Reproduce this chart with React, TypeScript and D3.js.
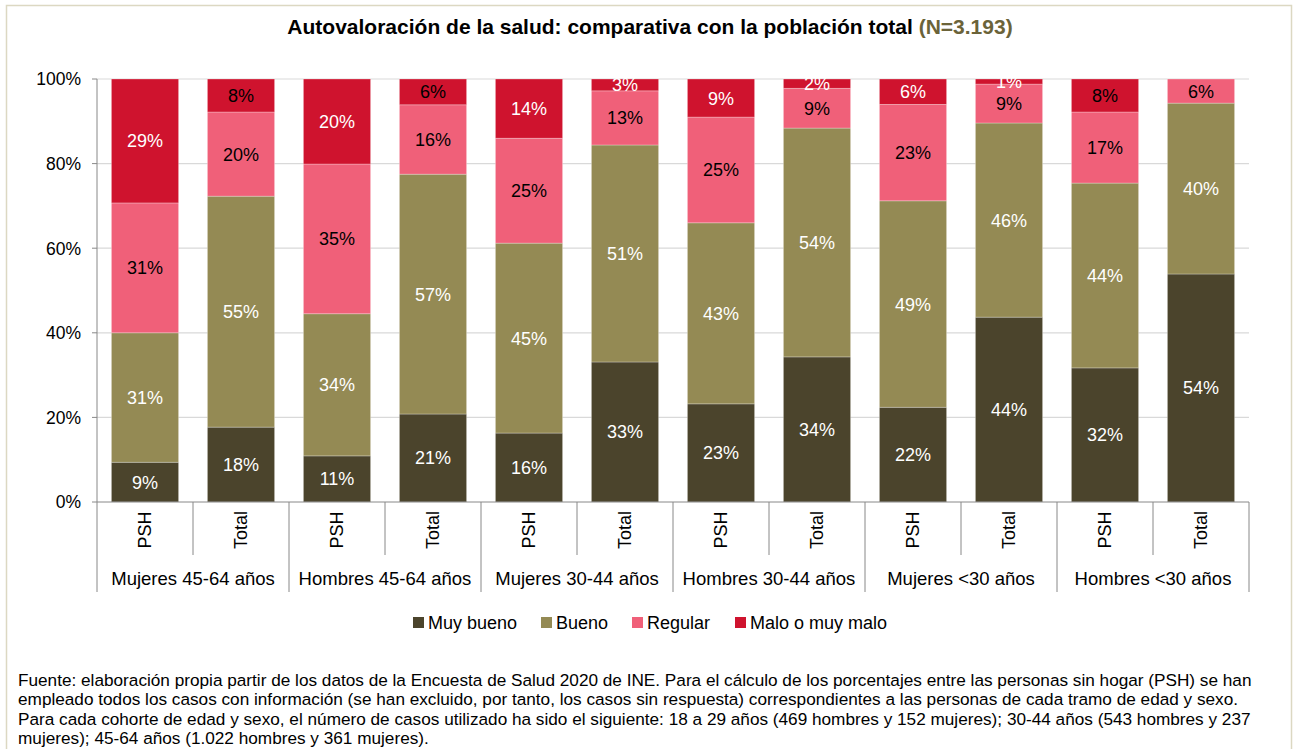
import React, { useEffect, useRef } from 'react';
import * as d3 from 'd3';

// Categories: age/sex groups and the two populations compared in each
const groups = [
  'Mujeres 45-64 años',
  'Hombres 45-64 años',
  'Mujeres 30-44 años',
  'Hombres 30-44 años',
  'Mujeres <30 años',
  'Hombres <30 años',
];
const populations = ['PSH', 'Total'];

const seriesNames = ['Muy bueno', 'Bueno', 'Regular', 'Malo o muy malo'];

// Values in %, one entry per bar (group x population)
const muyBueno = [9.4, 17.7, 10.9, 20.8, 16.3, 33.1, 23.2, 34.3, 22.4, 43.7, 31.7, 53.9];
const bueno = [30.6, 54.6, 33.6, 56.7, 44.9, 51.3, 42.8, 54.1, 48.8, 45.9, 43.7, 40.4];
const regular = [30.7, 19.9, 35.4, 16.4, 24.8, 12.8, 25.0, 9.4, 22.8, 9.2, 16.8, 5.7];
const malo = [29.3, 7.8, 20.1, 6.1, 14.0, 2.8, 9.0, 2.2, 6.0, 1.2, 7.8, 0];

const yTicks = [0, 20, 40, 60, 80, 100];

const footnote = [
  'Fuente: elaboración propia partir de los datos de la Encuesta de Salud 2020 de INE. Para el cálculo de los porcentajes entre las personas sin hogar (PSH) se han',
  'empleado todos los casos con información (se han excluido, por tanto, los casos sin respuesta) correspondientes a las personas de cada tramo de edad y sexo.',
  'Para cada cohorte de edad y sexo, el número de casos utilizado ha sido el siguiente: 18 a 29 años (469 hombres y 152 mujeres); 30-44 años (543 hombres y 237',
  'mujeres); 45-64 años (1.022 hombres y 361 mujeres).',
];

const colors = ['#4b442c', '#948a54', '#f06079', '#cf132e'];
const labelColors = ['#ffffff', '#ffffff', '#000000', '#ffffff'];
const FONT = '"Liberation Sans", Arial, sans-serif';

const App = () => {
  const svgRef = useRef(null);

  useEffect(() => {
    const W = 1295;
    const H = 749;
    const svg = d3.select(svgRef.current);
    svg.selectAll('*').remove();

    // outer frame
    svg
      .append('rect')
      .attr('x', 6.5)
      .attr('y', 5.5)
      .attr('width', 1285)
      .attr('height', 780)
      .attr('fill', '#fff')
      .attr('stroke', '#dcd8c2')
      .attr('stroke-width', 1.5);

    // title
    const title = svg
      .append('text')
      .attr('x', 650)
      .attr('y', 34)
      .attr('text-anchor', 'middle')
      .style('font-family', FONT)
      .style('font-size', '21px')
      .style('font-weight', 'bold')
      .attr('fill', '#000');
    title.append('tspan').text('Autovaloración de la salud: comparativa con la población total ');
    title.append('tspan').attr('fill', '#6b6339').text('(N=3.193)');

    // build rows
    const rows = [];
    groups.forEach((g, gi) => {
      populations.forEach((p, pi) => {
        const i = gi * populations.length + pi;
        rows.push({
          key: `${gi}-${p}`,
          group: g,
          pop: p,
          values: [muyBueno[i], bueno[i], regular[i], malo[i]],
        });
      });
    });

    const left = 97;
    const right = 1249;
    const top = 79;
    const bottom = 502;

    const x = d3
      .scaleBand()
      .domain(rows.map((d) => d.key))
      .range([left, right])
      .paddingInner(0.3)
      .paddingOuter(0.15);

    const xGroup = d3.scaleBand().domain(groups).range([left, right]);

    const y = d3.scaleLinear().domain([0, 100]).range([bottom, top]);

    // gridlines
    svg
      .append('g')
      .selectAll('line')
      .data(yTicks.filter((t) => t > 0))
      .enter()
      .append('line')
      .attr('x1', left)
      .attr('x2', right)
      .attr('y1', (d) => y(d))
      .attr('y2', (d) => y(d))
      .attr('stroke', '#d9d9d9')
      .attr('stroke-width', 1.2);

    // stacks
    const stacked = rows.map((r) => {
      let acc = 0;
      return r.values.map((v, si) => {
        const seg = { key: r.key, si, y0: acc, y1: acc + v, v };
        acc += v;
        return seg;
      });
    });

    const bars = svg.append('g');
    stacked.forEach((segs) => {
      segs.forEach((s) => {
        if (s.v <= 0) return;
        bars
          .append('rect')
          .attr('x', x(s.key))
          .attr('width', x.bandwidth())
          .attr('y', y(s.y1))
          .attr('height', y(s.y0) - y(s.y1))
          .attr('fill', colors[s.si])
          .attr('stroke', 'rgba(255,255,255,0.35)')
          .attr('stroke-width', 0.8);
      });
    });

    // data labels
    const darkMalo = ['0-Total', '1-Total', '5-PSH'];
    stacked.forEach((segs) => {
      segs.forEach((s) => {
        if (s.v <= 0) return;
        let fill = labelColors[s.si];
        if (s.si === 3 && darkMalo.includes(s.key)) fill = '#000';
        bars
          .append('text')
          .attr('x', x(s.key) + x.bandwidth() / 2)
          .attr('y', (y(s.y0) + y(s.y1)) / 2)
          .attr('dy', '0.36em')
          .attr('text-anchor', 'middle')
          .style('font-family', FONT)
          .style('font-size', '18px')
          .attr('fill', fill)
          .text(`${Math.round(s.v)}%`);
      });
    });

    // y axis
    const axisColor = '#888';
    svg
      .append('line')
      .attr('x1', left)
      .attr('x2', left)
      .attr('y1', top)
      .attr('y2', bottom)
      .attr('stroke', axisColor);
    const yt = svg.append('g');
    yTicks.forEach((t) => {
      yt.append('line')
        .attr('x1', left - 5)
        .attr('x2', left)
        .attr('y1', y(t))
        .attr('y2', y(t))
        .attr('stroke', axisColor);
      yt.append('text')
        .attr('x', left - 16)
        .attr('y', y(t))
        .attr('dy', '0.36em')
        .attr('text-anchor', 'end')
        .style('font-family', FONT)
        .style('font-size', '17.5px')
        .attr('fill', '#000')
        .text(`${t}%`);
    });

    // x axis
    svg
      .append('line')
      .attr('x1', left)
      .attr('x2', right)
      .attr('y1', bottom)
      .attr('y2', bottom)
      .attr('stroke', axisColor);

    const xa = svg.append('g');
    // dividers between populations inside a group
    groups.forEach((g) => {
      const mid = xGroup(g) + xGroup.bandwidth() / 2;
      xa.append('line')
        .attr('x1', mid)
        .attr('x2', mid)
        .attr('y1', bottom)
        .attr('y2', 555)
        .attr('stroke', axisColor);
    });
    // group dividers
    [...groups.map((g) => xGroup(g)), right].forEach((gx) => {
      xa.append('line')
        .attr('x1', gx)
        .attr('x2', gx)
        .attr('y1', bottom)
        .attr('y2', 592)
        .attr('stroke', axisColor);
    });

    // rotated population labels
    rows.forEach((r) => {
      const cx = x(r.key) + x.bandwidth() / 2;
      xa.append('text')
        .attr('transform', `translate(${cx},530) rotate(-90)`)
        .attr('text-anchor', 'middle')
        .attr('dy', '0.36em')
        .style('font-family', FONT)
        .style('font-size', '18px')
        .attr('fill', '#000')
        .text(r.pop);
    });

    // group labels
    groups.forEach((g) => {
      xa.append('text')
        .attr('x', xGroup(g) + xGroup.bandwidth() / 2)
        .attr('y', 578)
        .attr('dy', '0.36em')
        .attr('text-anchor', 'middle')
        .style('font-family', FONT)
        .style('font-size', '18.5px')
        .attr('fill', '#000')
        .text(g);
    });

    // legend
    const legendX = [413, 541, 632, 735];
    const lg = svg.append('g');
    seriesNames.forEach((n, i) => {
      lg.append('rect')
        .attr('x', legendX[i])
        .attr('y', 617)
        .attr('width', 11)
        .attr('height', 11)
        .attr('fill', colors[i]);
      lg.append('text')
        .attr('x', legendX[i] + 15)
        .attr('y', 623)
        .attr('dy', '0.36em')
        .style('font-family', FONT)
        .style('font-size', '18px')
        .attr('fill', '#000')
        .text(n);
    });

    // footnote
    const fn = svg.append('g');
    footnote.forEach((line, i) => {
      fn.append('text')
        .attr('x', 18)
        .attr('y', 686 + i * 19.4)
        .style('font-family', FONT)
        .style('font-size', '17.2px')
        .attr('fill', '#000')
        .text(line);
    });

    svg.attr('width', W).attr('height', H);
  }, []);

  return (
    <svg
      ref={svgRef}
      width={1295}
      height={749}
      style={{ position: 'absolute', left: 0, top: 0, background: '#fff' }}
    ></svg>
  );
};

export default App;
